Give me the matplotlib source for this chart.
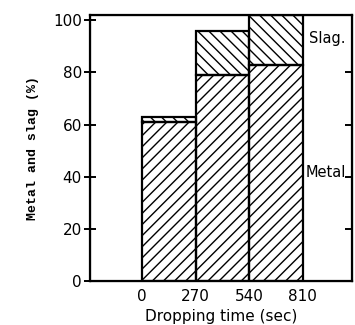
import matplotlib
matplotlib.use("Agg")
import matplotlib.pyplot as plt

# data
time_edges = [0, 270, 540]
bar_width = 270
metal = [61, 79, 83]
slag = [2, 17, 19]
x_ticks = [0, 270, 540, 810]
y_ticks = [0, 20, 40, 60, 80, 100]

plt.rcParams['hatch.linewidth'] = 1.0

fig = plt.figure(figsize=(3.55, 3.25), dpi=100)
ax = fig.add_axes([0.254, 0.135, 0.737, 0.819])

ax.bar(time_edges, metal, width=bar_width, align='edge', fill=False,
       hatch='///', edgecolor='black', linewidth=1.6)
ax.bar(time_edges, slag, width=bar_width, bottom=metal, align='edge', fill=False,
       hatch='\\\\\\', edgecolor='black', linewidth=1.6)

ax.set_xlim(-261, 1056)
ax.set_ylim(0, 102)
ax.set_xticks(x_ticks)
ax.set_yticks(y_ticks)
ax.tick_params(axis='x', length=0, labelsize=11, pad=6)
ax.tick_params(axis='y', direction='inout', length=8, width=1.4, labelsize=11, pad=2)
for s in ax.spines.values():
    s.set_linewidth(1.6)

# inward ticks on the right side
ax_r = ax.twinx()
ax_r.set_ylim(ax.get_ylim())
ax_r.set_yticks(y_ticks[1:-1])
ax_r.tick_params(axis='y', direction='in', length=5, width=1.4, labelright=False)

ax.text(930, 93, 'Slag.', fontsize=10.5, ha='center', va='center')
ax.text(925, 41.5, 'Metal', fontsize=10.5, ha='center', va='center')

ax.set_xlabel('Dropping time (sec)', fontsize=11, labelpad=3)
ax.set_ylabel('Metal and slag (%)', fontsize=9.5, family='Liberation Mono',
              fontweight='bold', labelpad=10)

fig.savefig('out.png', dpi=100)
